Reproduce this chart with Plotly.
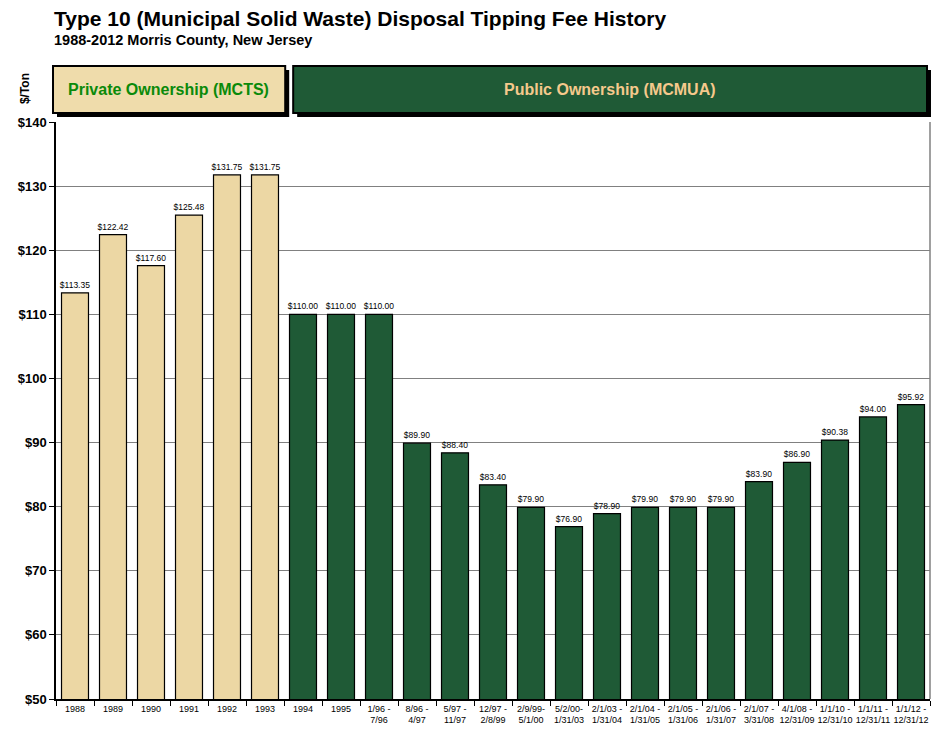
"""Type 10 MSW disposal tipping fee history, Morris County NJ."""

import plotly.graph_objects as go

periods = [
    "1988", "1989", "1990", "1991", "1992", "1993", "1994", "1995",
    "1/96 -<br>7/96", "8/96 -<br>4/97", "5/97 -<br>11/97", "12/97 -<br>2/8/99",
    "2/9/99-<br>5/1/00", "5/2/00-<br>1/31/03", "2/1/03 -<br>1/31/04",
    "2/1/04 -<br>1/31/05", "2/1/05 -<br>1/31/06", "2/1/06 -<br>1/31/07",
    "2/1/07 -<br>3/31/08", "4/1/08 -<br>12/31/09", "1/1/10 -<br>12/31/10",
    "1/1/11 -<br>12/31/11", "1/1/12 -<br>12/31/12",
]
fees = [
    113.35, 122.42, 117.60, 125.48, 131.75, 131.75, 110.00, 110.00, 110.00,
    89.90, 88.40, 83.40, 79.90, 76.90, 78.90, 79.90, 79.90, 79.90, 83.90,
    86.90, 90.38, 94.00, 95.92,
]
owner = ["private"] * 6 + ["public"] * 17

TAN = "#ecd7a4"
GREEN = "#1f5a36"
colors = [TAN if o == "private" else GREEN for o in owner]

fig = go.Figure()
fig.add_trace(
    go.Bar(
        x=periods,
        y=fees,
        marker={"color": colors, "line": {"color": "#000000", "width": 1.2}},
        text=[f"${v:.2f}" for v in fees],
        textposition="outside",
        constraintext="none",
        textfont={"family": "Arial", "size": 8.5, "color": "#000000"},
        cliponaxis=False,
        showlegend=False,
    )
)

# page has an 8px body margin, so the figure is 8px smaller each way;
# plot area is 877 x 577 px and boxes above it sit in paper units
PW, PH = 877.0, 577.0


def px_x(x):
    return (x - 53) / PW


def px_y(y):
    return (699 - y) / PH


shapes = []
for x0, x1, fill in [(50, 283, "#efdcab"), (291, 927, GREEN)]:
    shapes.append(
        dict(type="rect", xref="paper", yref="paper",
             x0=px_x(x0 + 4), x1=px_x(x1 + 4), y0=px_y(117), y1=px_y(70),
             fillcolor="#000000", line={"width": 0}, layer="above")
    )
    shapes.append(
        dict(type="rect", xref="paper", yref="paper",
             x0=px_x(x0), x1=px_x(x1), y0=px_y(113), y1=px_y(66),
             fillcolor=fill, line={"color": "#000000", "width": 2}, layer="above")
    )
shapes.append(
    dict(type="line", xref="paper", yref="paper", x0=1, x1=1, y0=0, y1=1,
         line={"color": "#808080", "width": 1.5})
)

annotations = [
    dict(text="<b>Type 10 (Municipal Solid Waste) Disposal Tipping Fee History</b>",
         xref="paper", yref="paper", x=px_x(49), y=px_y(5), xanchor="left", yanchor="top",
         showarrow=False, font={"family": "Arial", "size": 21, "color": "#000000"}),
    dict(text="<b>1988-2012 Morris County, New Jersey</b>",
         xref="paper", yref="paper", x=px_x(49), y=px_y(30), xanchor="left", yanchor="top",
         showarrow=False, font={"family": "Arial", "size": 14.5, "color": "#000000"}),
    dict(text="<b>Private Ownership (MCTS)</b>",
         xref="paper", yref="paper", x=px_x(166), y=px_y(89), xanchor="center", yanchor="middle",
         showarrow=False, font={"family": "Arial", "size": 16, "color": "#0a8a0a"}),
    dict(text="<b>Public Ownership (MCMUA)</b>",
         xref="paper", yref="paper", x=px_x(609), y=px_y(89), xanchor="center", yanchor="middle",
         showarrow=False, font={"family": "Arial", "size": 16, "color": "#f5c98c"}),
    dict(text="<b>$/Ton</b>", textangle=-90,
         xref="paper", yref="paper", x=px_x(22), y=px_y(89), xanchor="center", yanchor="middle",
         showarrow=False, font={"family": "Arial", "size": 12, "color": "#000000"}),
]

fig.update_layout(
    width=932,
    height=729,
    paper_bgcolor="#ffffff",
    plot_bgcolor="#ffffff",
    margin={"l": 45, "r": 10, "t": 114, "b": 38},
    bargap=0.29,
    shapes=shapes,
    annotations=annotations,
    font={"family": "Arial", "color": "#000000"},
)
fig.update_xaxes(
    type="category",
    tickson="boundaries",
    ticks="outside",
    ticklen=5,
    tickcolor="#000000",
    showline=True,
    linecolor="#000000",
    linewidth=1.5,
    tickfont={"family": "Arial", "size": 9},
    tickangle=0,
)
fig.update_yaxes(
    range=[50, 140],
    dtick=10,
    tickprefix="<b>$",
    ticksuffix="</b>",
    tickformat="d",
    ticks="outside",
    ticklen=5,
    tickcolor="#000000",
    showline=True,
    linecolor="#000000",
    linewidth=1.5,
    showgrid=True,
    gridcolor="#808080",
    gridwidth=1,
    tickfont={"family": "Arial", "size": 13},
    zeroline=False,
)

fig.write_html("out.html")
